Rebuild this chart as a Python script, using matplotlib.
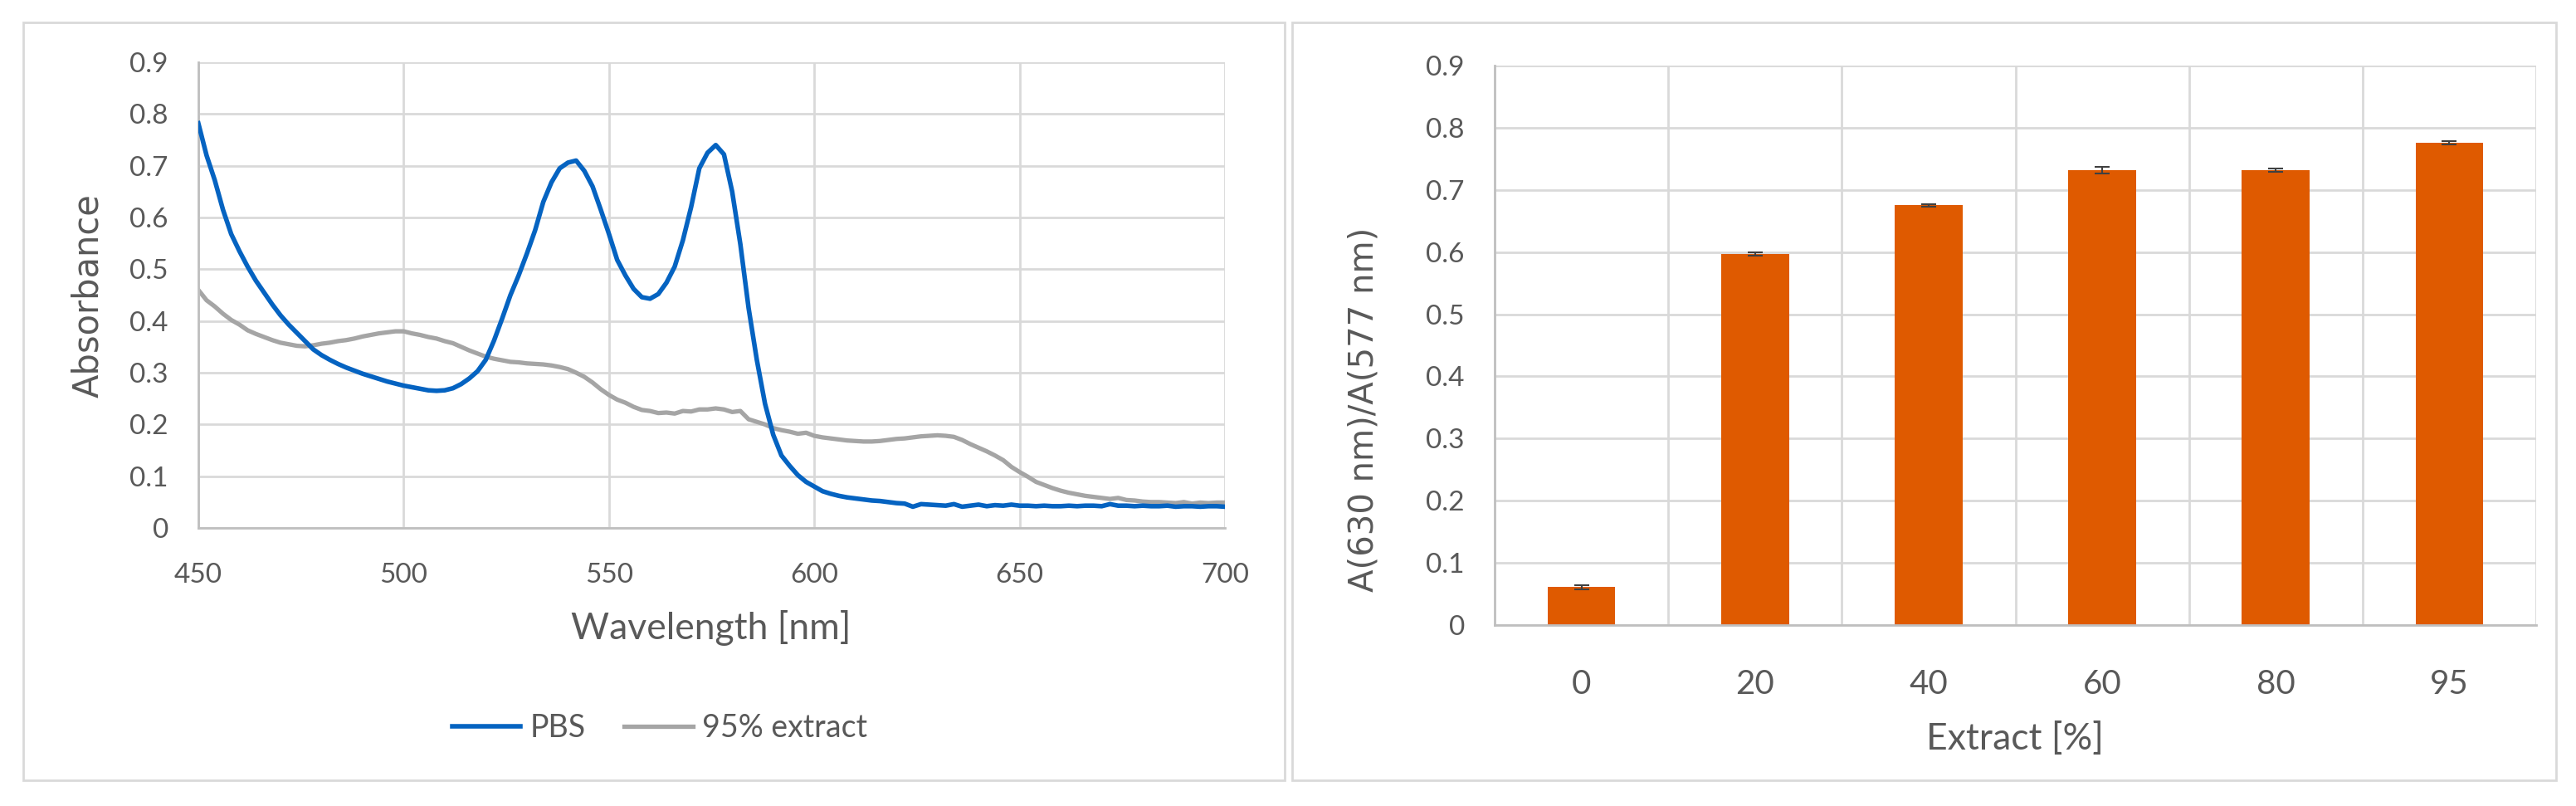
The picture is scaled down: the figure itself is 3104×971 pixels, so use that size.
import numpy as np
import matplotlib.pyplot as plt
from matplotlib.patches import Rectangle
from matplotlib.ticker import MultipleLocator, FixedLocator

## Data

# Spectra, every 2 nm from 450 to 700 nm
wavelength = np.arange(450, 701, 2)

pbs = [0.782, 0.720, 0.672, 0.615, 0.568, 0.535, 0.505, 0.478, 0.455, 0.432,
       0.411, 0.393, 0.377, 0.361, 0.345, 0.334, 0.325, 0.317, 0.310, 0.304,
       0.298, 0.293, 0.288, 0.283, 0.279, 0.275, 0.272, 0.269, 0.266, 0.265,
       0.266, 0.270, 0.278, 0.289, 0.303, 0.325, 0.362, 0.405, 0.450, 0.488,
       0.530, 0.575, 0.630, 0.668, 0.695, 0.706, 0.710, 0.690, 0.660, 0.615,
       0.568, 0.518, 0.488, 0.462, 0.446, 0.443, 0.452, 0.474, 0.505, 0.556,
       0.620, 0.695, 0.725, 0.740, 0.722, 0.650, 0.548, 0.425, 0.325, 0.240,
       0.180, 0.140, 0.120, 0.102, 0.089, 0.080, 0.071, 0.066, 0.062, 0.059,
       0.057, 0.055, 0.053, 0.052, 0.050, 0.048, 0.047, 0.041, 0.046, 0.045,
       0.044, 0.043, 0.046, 0.041, 0.043, 0.045, 0.042, 0.044, 0.043, 0.045,
       0.043, 0.043, 0.042, 0.043, 0.042, 0.042, 0.043, 0.042, 0.043, 0.043,
       0.042, 0.046, 0.043, 0.043, 0.042, 0.043, 0.042, 0.042, 0.043, 0.041,
       0.042, 0.042, 0.041, 0.042, 0.042, 0.041]

extract95 = [0.460, 0.440, 0.428, 0.414, 0.402, 0.393, 0.382, 0.375, 0.369, 0.363,
             0.358, 0.355, 0.352, 0.351, 0.353, 0.356, 0.358, 0.361, 0.363, 0.366,
             0.370, 0.373, 0.376, 0.378, 0.380, 0.380, 0.376, 0.373, 0.369, 0.366,
             0.361, 0.357, 0.350, 0.343, 0.337, 0.331, 0.327, 0.324, 0.321, 0.320,
             0.318, 0.317, 0.316, 0.314, 0.311, 0.307, 0.300, 0.292, 0.281, 0.268,
             0.257, 0.248, 0.242, 0.234, 0.228, 0.226, 0.222, 0.223, 0.221, 0.226,
             0.225, 0.229, 0.229, 0.231, 0.229, 0.224, 0.226, 0.210, 0.205, 0.200,
             0.193, 0.189, 0.186, 0.182, 0.184, 0.178, 0.175, 0.173, 0.171, 0.169,
             0.168, 0.167, 0.167, 0.168, 0.170, 0.172, 0.173, 0.175, 0.177, 0.178,
             0.179, 0.178, 0.176, 0.170, 0.162, 0.155, 0.148, 0.140, 0.131, 0.118,
             0.108, 0.099, 0.089, 0.083, 0.077, 0.072, 0.068, 0.065, 0.062, 0.060,
             0.058, 0.056, 0.058, 0.054, 0.053, 0.051, 0.050, 0.050, 0.049, 0.048,
             0.050, 0.047, 0.049, 0.048, 0.049, 0.049]

# Ratio bars
extract_pct = ['0', '20', '40', '60', '80', '95']
ratio = [0.061, 0.597, 0.675, 0.732, 0.732, 0.776]
ratio_err = [0.003, 0.003, 0.002, 0.005, 0.003, 0.003]

## Styling
W, H = 3104, 971
txt = '#595959'
grid_c = '#D9D9D9'
axis_c = '#BFBFBF'
tick_font = 'Lato'
ylab_font = 'DejaVu Sans'

fig = plt.figure(figsize=(W / 100, H / 100), dpi=100)


def fx(px):
    return px / W


def fy(py):
    return 1 - py / H


# panel frames
for x0, x1 in [(28, 1548), (1557, 3080)]:
    fig.patches.append(Rectangle((fx(x0), fy(940)), fx(x1 - x0), (940 - 27) / H,
                                 transform=fig.transFigure, fill=False,
                                 edgecolor=grid_c, lw=2))


def style_axes(ax):
    for s in ['top', 'right']:
        ax.spines[s].set_visible(False)
    for s in ['left', 'bottom']:
        ax.spines[s].set_color(axis_c)
        ax.spines[s].set_linewidth(2)
    ax.tick_params(length=0, colors=txt)
    ax.set_axisbelow(True)


## Left: spectra
ax1 = fig.add_axes([fx(239), fy(636), fx(1476 - 239), (636 - 75) / H])
ax1.plot(wavelength, pbs, color='#0563C1', lw=4.0, label='PBS', zorder=3)
ax1.plot(wavelength, extract95, color='#A5A5A5', lw=3.8, label='95% extract', zorder=2)
ax1.set_xlim(450, 700)
ax1.set_ylim(0, 0.9)
ax1.xaxis.set_major_locator(MultipleLocator(50))
ax1.set_yticks(np.arange(0, 0.95, 0.1))
ax1.set_yticklabels(['0'] + ['%.1f' % v for v in np.arange(0.1, 0.95, 0.1)])
ax1.grid(True, color=grid_c, lw=2)
style_axes(ax1)
ax1.tick_params(axis='y', pad=26)
ax1.tick_params(axis='x', pad=30)
for lab in ax1.get_xticklabels() + ax1.get_yticklabels():
    lab.set_fontfamily(tick_font)
    lab.set_fontsize(24)

fig.text(fx(857), fy(756), 'Wavelength [nm]', ha='center', va='center',
         fontsize=32, color=txt, family=tick_font)
fig.text(fx(106), fy(356), 'Absorbance', ha='center', va='center', rotation=90,
         fontsize=30, color=txt, family=ylab_font)

leg = fig.legend(handles=ax1.get_lines(), loc='center', bbox_to_anchor=(fx(795), fy(877)),
                 ncol=2, frameon=False, handlelength=2.2, handletextpad=0.3,
                 columnspacing=1.25, prop={'family': tick_font, 'size': 27})
for t in leg.get_texts():
    t.set_color(txt)

## Right: ratio bars
ax2 = fig.add_axes([fx(1801), fy(753), fx(3056 - 1801), (753 - 79) / H])
xpos = np.arange(len(extract_pct))
ax2.bar(xpos, ratio, width=0.39, color='#DF5A00', zorder=2)
ax2.errorbar(xpos, ratio, yerr=ratio_err, fmt='none', ecolor='#404040',
             elinewidth=1.5, capsize=6.5, capthick=1.5, zorder=3)
ax2.set_xlim(-0.5, len(extract_pct) - 0.5)
ax2.set_ylim(0, 0.9)
ax2.set_xticks(xpos)
ax2.set_xticklabels(extract_pct)
ax2.xaxis.set_minor_locator(FixedLocator(np.arange(0.5, len(extract_pct), 1.0)))
ax2.set_yticks(np.arange(0, 0.95, 0.1))
ax2.set_yticklabels(['0'] + ['%.1f' % v for v in np.arange(0.1, 0.95, 0.1)])
ax2.grid(True, axis='y', color=grid_c, lw=2)
ax2.grid(True, axis='x', which='minor', color=grid_c, lw=2)
style_axes(ax2)
ax2.tick_params(which='minor', length=0)
ax2.tick_params(axis='y', pad=26)
ax2.tick_params(axis='x', pad=38)
for lab in ax2.get_yticklabels():
    lab.set_fontfamily(tick_font)
    lab.set_fontsize(24)
for lab in ax2.get_xticklabels():
    lab.set_fontfamily(tick_font)
    lab.set_fontsize(29)

fig.text(fx(2428), fy(890), 'Extract [%]', ha='center', va='center',
         fontsize=32, color=txt, family=tick_font)
fig.text(fx(1644), fy(493), 'A(630 nm)/A(577 nm)', ha='center', va='center',
         rotation=90, fontsize=29, color=txt, family=ylab_font)

fig.savefig('out.png', dpi=100, facecolor='white')
